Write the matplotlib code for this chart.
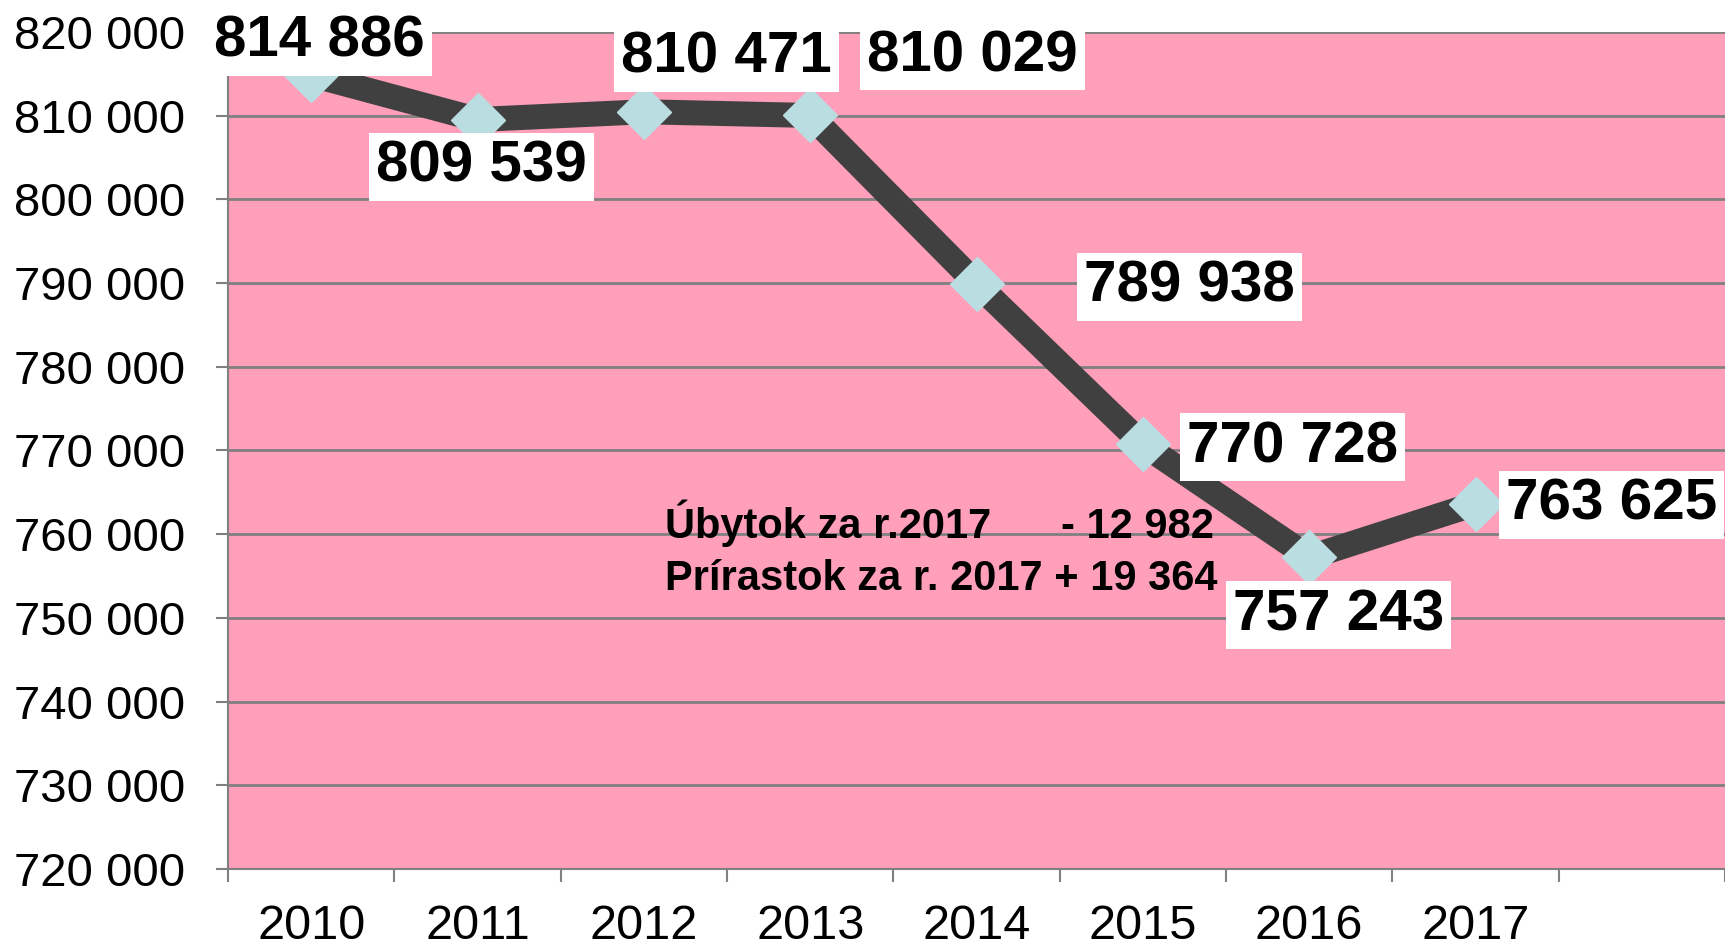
import numpy as np
import matplotlib
matplotlib.use("Agg")
import matplotlib.pyplot as plt

# data
years = ["2010", "2011", "2012", "2013", "2014", "2015", "2016", "2017"]
population = [814886, 809539, 810471, 810029, 789938, 770728, 757243, 763625]
value_labels = ["814 886", "809 539", "810 471", "810 029", "789 938", "770 728", "757 243", "763 625"]
y_ticks = list(range(720000, 820001, 10000))
note_lines = ["Úbytok za r.2017      - 12 982", "Prírastok za r. 2017 + 19 364"]

# label offsets in pixels (x, y) from each point
offsets = [(8, 33), (4, -47), (83, 54), (162, 59), (213, -3), (150, -3), (29, -58), (136, -1)]

plt.rcParams['font.family'] = ['Liberation Sans', 'DejaVu Sans']

fig = plt.figure(figsize=(17.25, 9.47), dpi=100)
ax = fig.add_axes([0.1322, 0.0824, 0.8678, 0.8838])
ax.set_facecolor('#FF9FBA')

x = np.arange(len(years))
ax.plot(x, population, color='#404040', linewidth=18, marker='D', markersize=28,
        markerfacecolor='#B9DDE1', markeredgecolor='#B9DDE1', zorder=3)

for xi, yi, lab, off in zip(x, population, value_labels, offsets):
    ax.annotate(lab, (xi, yi), xytext=off, textcoords='offset pixels',
                ha='center', va='center', fontsize=42, fontweight='bold',
                bbox=dict(boxstyle='square,pad=0.12', fc='white', ec='none'),
                zorder=5, annotation_clip=False)

ax.text(2.13, 761300, note_lines[0], fontsize=30, fontweight='bold', ha='left', va='center', zorder=4)
ax.text(2.13, 754700, note_lines[1], fontsize=30, fontweight='bold', ha='left', va='center', zorder=4)

ax.set_xlim(-0.5, 8.37)
ax.set_ylim(720000, 820000)
ax.set_yticks(y_ticks)
ax.set_yticklabels([f"{v:,}".replace(",", " ") for v in y_ticks])
ax.set_xticks(x)
ax.set_xticklabels(years)
ax.set_xticks(np.arange(-0.5, 9, 1), minor=True)

ax.tick_params(axis='x', which='major', length=0, labelsize=35, pad=25)
ax.tick_params(axis='x', which='minor', length=9, width=1.5, color='#808080', direction='out')
ax.tick_params(axis='y', length=9, width=1.5, color='#808080', labelsize=34, pad=22)

ax.grid(axis='y', color='#808080', linewidth=2)
ax.set_axisbelow(True)
for s in ['top', 'right']:
    ax.spines[s].set_visible(False)
for s in ['left', 'bottom']:
    ax.spines[s].set_color('#808080')
    ax.spines[s].set_linewidth(1.5)

plt.savefig('out.png', dpi=100)
